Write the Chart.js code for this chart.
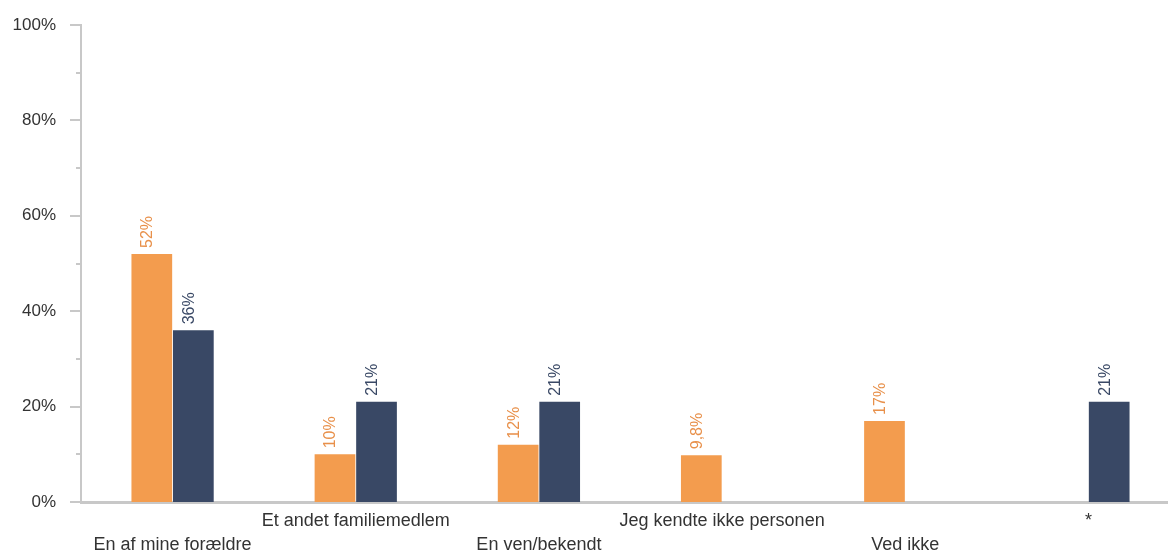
<!DOCTYPE html>
<html>
<head>
<meta charset="utf-8">
<script src="https://cdn.jsdelivr.net/npm/chart.js@4.4.0/dist/chart.umd.min.js"></script>
<style>
  html, body { margin: 0; padding: 0; background: #ffffff; overflow: hidden; }
  #wrap { width: 1180px; height: 553px; }
</style>
</head>
<body>
<div id="wrap"><canvas id="c" width="1180" height="553"></canvas></div>
<script>
const categories = [
  ['', 'En af mine forældre'],
  ['Et andet familiemedlem', ''],
  ['', 'En ven/bekendt'],
  ['Jeg kendte ikke personen', ''],
  ['', 'Ved ikke'],
  ['*', '']
];
const seriesA = [52, 10, 12, 9.8, 17, null];
const seriesB = [36, 21, 21, null, null, 21];
const labelsA = ['52%', '10%', '12%', '9,8%', '17%', ''];
const labelsB = ['36%', '21%', '21%', '', '', '21%'];
const yTicks = [0, 20, 40, 60, 80, 100];

const ORANGE = '#F39C4E';
const NAVY = '#394865';
const AXIS = '#C8C8C8';
const TEXT = '#333333';
const FONT = "'Liberation Sans', Arial, sans-serif";

const valueLabels = {
  id: 'valueLabels',
  afterDatasetsDraw(chart) {
    const ctx = chart.ctx;
    chart.data.datasets.forEach((ds, i) => {
      const meta = chart.getDatasetMeta(i);
      meta.data.forEach((el, j) => {
        const v = ds.data[j];
        if (v === null || v === undefined) return;
        const txt = ds.valueLabels[j];
        ctx.save();
        ctx.translate(el.x - 4, el.y - 6);
        ctx.rotate(-Math.PI / 2);
        ctx.font = '16px ' + FONT;
        ctx.fillStyle = ds.labelColor;
        ctx.textAlign = 'left';
        ctx.textBaseline = 'middle';
        ctx.fillText(txt, 0, 0);
        ctx.restore();
      });
    });
  }
};

const yTickMarks = {
  id: 'yTickMarks',
  afterDraw(chart) {
    const y = chart.scales.y;
    const ctx = chart.ctx;
    const xAxis = y.right;
    ctx.save();
    ctx.strokeStyle = AXIS;
    ctx.lineWidth = 2;
    for (let v = 0; v <= 100; v += 10) {
      const py = Math.round(y.getPixelForValue(v));
      const len = (v % 20 === 0) ? 11 : 5;
      ctx.beginPath();
      ctx.moveTo(xAxis - len, py);
      ctx.lineTo(xAxis, py);
      ctx.stroke();
    }
    ctx.restore();
  }
};

new Chart(document.getElementById('c'), {
  type: 'bar',
  data: {
    labels: categories,
    datasets: [
      { data: seriesA, backgroundColor: ORANGE, labelColor: '#E8904A', valueLabels: labelsA,
        categoryPercentage: 0.4536, barPercentage: 0.98 },
      { data: seriesB, backgroundColor: NAVY, labelColor: '#394865', valueLabels: labelsB,
        categoryPercentage: 0.4536, barPercentage: 0.98 }
    ]
  },
  options: {
    responsive: false,
    animation: false,
    layout: { padding: { top: 25, right: 0, left: 0, bottom: 0 } },
    plugins: { legend: { display: false }, tooltip: { enabled: false } },
    scales: {
      x: {
        grid: { display: false, drawTicks: false },
        border: { display: true, color: AXIS, width: 3 },
        ticks: {
          autoSkip: false, maxRotation: 0, minRotation: 0,
          color: TEXT, padding: 7,
          font: { family: FONT, size: 18, lineHeight: 1.33 }
        },
        afterFit(scale) { scale.height = 51; scale.paddingLeft = 0; scale.paddingRight = 0; }
      },
      y: {
        min: 0, max: 100,
        afterBuildTicks(scale) { scale.ticks = yTicks.map(v => ({ value: v })); },
        grid: { display: false, drawTicks: false },
        border: { display: true, color: AXIS, width: 2 },
        ticks: {
          color: TEXT, padding: 25,
          font: { family: FONT, size: 17 },
          callback: v => v + '%'
        },
        afterFit(scale) { scale.width = 81; scale.paddingTop = 0; scale.paddingBottom = 0; }
      }
    }
  },
  plugins: [valueLabels, yTickMarks]
});
</script>
</body>
</html>
